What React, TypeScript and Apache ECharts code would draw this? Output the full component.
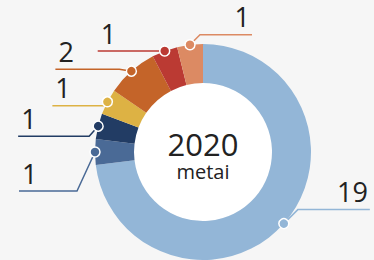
import React, { useEffect, useRef } from 'react';
import * as echarts from 'echarts';

const categories = ['Kategorija A', 'Kategorija B', 'Kategorija C', 'Kategorija D', 'Kategorija E', 'Kategorija F', 'Kategorija G'];
const values = [19, 1, 1, 1, 2, 1, 1];
const sliceColors = ['#93b6d7', '#4a6a96', '#223c64', '#ddb244', '#c46429', '#bb3a33', '#dc8a63'];
const centerTitle = '2020';
const centerSubtitle = 'metai';

// leader line shape per label: [elbow dx, elbow dy, horizontal length]
const leaderShapes: number[][] = [
  [14, -14, 72],
  [-18, 39, -58],
  [-9, 10, -71],
  [-4, 4, -51],
  [-12, -2, -64],
  [0, 0, -67],
  [10, -10, 52],
];

export default function App() {
  const ref = useRef<HTMLDivElement>(null);
  useEffect(() => {
    document.body.style.margin = '0';
    if (!ref.current) return;
    const chart = echarts.init(ref.current, undefined, { renderer: 'svg' });
    const total = values.reduce((a, b) => a + b, 0);
    const mids: number[] = [];
    let acc = 0;
    values.forEach((v) => {
      mids.push(acc + v / 2);
      acc += v;
    });
    const cx = 203;
    const cy = 152;
    const rIn = 69;
    const rOut = 108;
    const font = '"Open Sans", "Noto Sans", sans-serif';
    chart.setOption({
      animation: false,
      backgroundColor: '#f6f6f6',
      polar: { center: [cx, cy], radius: [0, rOut] },
      angleAxis: {
        type: 'value', min: 0, max: total, startAngle: 90, clockwise: true, show: false,
        axisLine: { show: false }, axisTick: { show: false }, axisLabel: { show: false }, splitLine: { show: false },
      },
      radiusAxis: {
        type: 'value', min: 0, max: 1, show: false,
        axisLine: { show: false }, axisTick: { show: false }, axisLabel: { show: false }, splitLine: { show: false },
      },
      series: [
        {
          type: 'pie',
          center: [cx, cy],
          radius: [0, rIn],
          silent: true,
          label: { show: false },
          labelLine: { show: false },
          itemStyle: { color: '#ffffff' },
          emphasis: { disabled: true },
          data: [{ value: 1, name: 'inner' }],
          z: 1,
        },
        {
          type: 'pie',
          center: [cx, cy],
          radius: [rIn, rOut],
          startAngle: 90,
          clockwise: true,
          avoidLabelOverlap: false,
          silent: true,
          emphasis: { disabled: true },
          data: values.map((v, i) => ({ value: v, name: categories[i], itemStyle: { color: sliceColors[i] } })),
          label: {
            show: true,
            position: 'outside',
            formatter: '{c}',
            color: '#222222',
            fontSize: 27,
            lineHeight: 27,
            fontFamily: font,
          },
          labelLine: { show: true, length: 10, length2: 40, lineStyle: { width: 1.5 } },
          labelLayout: (params: any) => {
            const pts = params.labelLinePoints;
            if (!pts) return {};
            const [ex, ey, len] = leaderShapes[params.dataIndex];
            const a = pts[0];
            const b = [a[0] + ex, a[1] + ey];
            const c = [b[0] + len, b[1]];
            const right = len > 0;
            return {
              labelLinePoints: [a, b, c],
              x: c[0] + (right ? -2 : 3),
              y: c[1] - 18,
              align: right ? 'right' : 'left',
              verticalAlign: 'middle',
            };
          },
          z: 2,
        },
        {
          type: 'scatter',
          coordinateSystem: 'polar',
          silent: true,
          symbol: 'circle',
          symbolSize: 10,
          data: mids.map((m) => [1, m]),
          itemStyle: {
            color: (p: any) => sliceColors[p.dataIndex],
            borderColor: '#ffffff',
            borderWidth: 1.5,
            opacity: 1,
          },
          z: 5,
        },
      ],
      graphic: [
        {
          type: 'text',
          x: cx,
          y: 144,
          style: { text: centerTitle, fontSize: 31, lineHeight: 28, fontFamily: font, fill: '#222222', align: 'center', verticalAlign: 'middle' },
          z: 10,
        },
        {
          type: 'text',
          x: cx,
          y: 171,
          style: { text: centerSubtitle, fontSize: 20, lineHeight: 18, fontFamily: font, fill: '#222222', align: 'center', verticalAlign: 'middle' },
          z: 10,
        },
      ],
    });
    return () => chart.dispose();
  }, []);
  return <div ref={ref} style={{ width: 374, height: 260, position: 'absolute', left: 0, top: 0 }} />;
}
